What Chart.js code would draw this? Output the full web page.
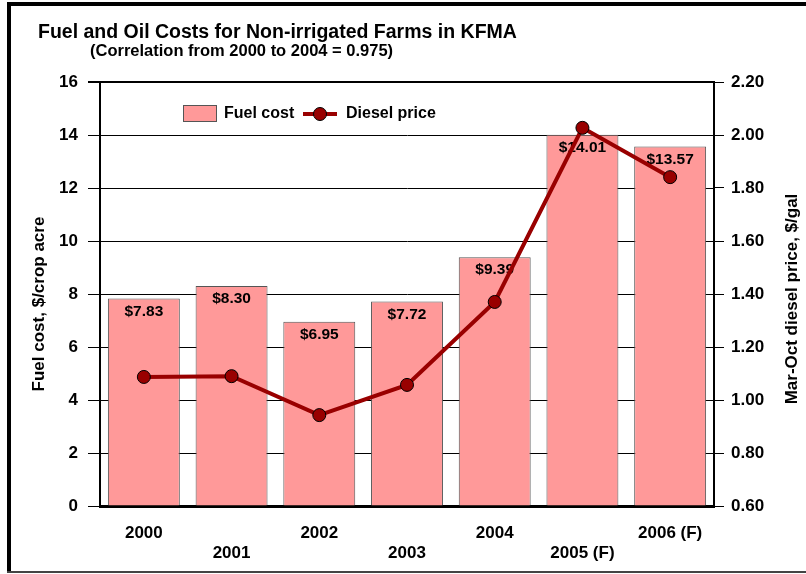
<!DOCTYPE html>
<html>
<head>
<meta charset="utf-8">
<script src="https://cdn.jsdelivr.net/npm/chart.js@4/dist/chart.umd.min.js"></script>
<style>
  html, body { margin: 0; padding: 0; background: #fff; }
  #wrap { width: 806px; height: 574px; }
</style>
</head>
<body>
<div id="wrap"><canvas id="fuelChart" width="806" height="574"></canvas></div>
<script>
const years = ['2000', '2001', '2002', '2003', '2004', '2005 (F)', '2006 (F)'];
const fuelCost = [7.83, 8.30, 6.95, 7.72, 9.39, 14.01, 13.57];
const dieselPrice = [1.087, 1.09, 0.943, 1.057, 1.37, 2.027, 1.841];
const costTicks = [0, 2, 4, 6, 8, 10, 12, 14, 16];
const priceTicks = [0.60, 0.80, 1.00, 1.20, 1.40, 1.60, 1.80, 2.00, 2.20];

const FONT = "'Liberation Sans', Arial, sans-serif";
const BAR_COLOR = '#ff9999';
const LINE_COLOR = '#990000';

// frame, titles, axis titles, bar labels and legend
const decorations = {
    id: 'decorations',
    beforeDraw(chart) {
        const c = chart.ctx;
        c.save();
        c.fillStyle = '#fff';
        c.fillRect(0, 0, chart.width, chart.height);
        c.fillStyle = '#000';
        c.fillRect(7, 2, chart.width - 7, 4);
        c.fillRect(7, 2, 4, 570);
        c.fillStyle = '#444';
        c.fillRect(7, 571, chart.width - 7, 2);
        c.restore();
    },
    afterDatasetDraw(chart, args) {
        if (args.index !== 0) return;
        const c = chart.ctx;
        const meta = chart.getDatasetMeta(0);
        c.save();
        c.font = 'bold 15.5px ' + FONT;
        c.fillStyle = '#000';
        c.textAlign = 'center';
        c.textBaseline = 'middle';
        meta.data.forEach((bar, i) => {
            c.fillText('$' + fuelCost[i].toFixed(2), bar.x, bar.y + 13);
        });
        c.restore();
    },
    afterDraw(chart) {
        const c = chart.ctx;
        c.save();
        c.fillStyle = '#000';
        c.textBaseline = 'alphabetic';
        c.textAlign = 'left';
        c.font = 'bold 19.5px ' + FONT;
        c.fillText('Fuel and Oil Costs for Non-irrigated Farms in KFMA', 38, 38);
        c.font = 'bold 16.5px ' + FONT;
        c.fillText('(Correlation from 2000 to 2004 = 0.975)', 90, 56);

        c.textBaseline = 'middle';
        c.textAlign = 'center';
        c.font = 'bold 17px ' + FONT;
        c.save();
        c.translate(39, 304);
        c.rotate(-Math.PI / 2);
        c.fillText('Fuel cost, $/crop acre', 0, 0);
        c.restore();
        c.save();
        c.translate(792, 299);
        c.rotate(-Math.PI / 2);
        c.fillText('Mar-Oct diesel price, $/gal', 0, 0);
        c.restore();

        // legend
        c.fillStyle = BAR_COLOR;
        c.fillRect(183, 105, 33, 16);
        c.strokeStyle = '#555';
        c.lineWidth = 1;
        c.strokeRect(183.5, 105.5, 33, 16);
        c.fillStyle = '#000';
        c.textAlign = 'left';
        c.font = 'bold 16px ' + FONT;
        c.fillText('Fuel cost', 224, 114);
        c.strokeStyle = LINE_COLOR;
        c.lineWidth = 4;
        c.beginPath();
        c.moveTo(303, 114);
        c.lineTo(337, 114);
        c.stroke();
        c.beginPath();
        c.arc(320, 114, 6.5, 0, Math.PI * 2);
        c.fillStyle = LINE_COLOR;
        c.fill();
        c.strokeStyle = '#000';
        c.lineWidth = 1;
        c.stroke();
        c.fillStyle = '#000';
        c.fillText('Diesel price', 346, 114);
        c.restore();
    }
};

const ctx = document.getElementById('fuelChart').getContext('2d');

new Chart(ctx, {
    data: {
        labels: years,
        datasets: [{
            type: 'bar',
            label: 'Fuel cost',
            data: fuelCost,
            yAxisID: 'y',
            backgroundColor: BAR_COLOR,
            borderColor: '#555',
            borderWidth: 1,
            barPercentage: 0.82,
            categoryPercentage: 1,
            order: 2
        }, {
            type: 'line',
            label: 'Diesel price',
            data: dieselPrice,
            yAxisID: 'y1',
            borderColor: LINE_COLOR,
            borderWidth: 4,
            tension: 0,
            pointRadius: 6.5,
            pointBackgroundColor: LINE_COLOR,
            pointBorderColor: '#000',
            pointBorderWidth: 1,
            order: 1
        }]
    },
    options: {
        responsive: false,
        animation: false,
        layout: {
            padding: { left: 10, right: 10, top: 82, bottom: 8 }
        },
        plugins: {
            legend: { display: false },
            tooltip: { enabled: false }
        },
        scales: {
            x: {
                grid: { display: false },
                border: { display: true, color: '#000', width: 3 },
                ticks: {
                    color: '#000',
                    font: { family: FONT, size: 17, weight: 'bold', lineHeight: 1.2 },
                    padding: 9,
                    maxRotation: 0,
                    autoSkip: false,
                    callback: function(value, index) {
                        const lbl = years[index];
                        return index % 2 ? ['', lbl] : [lbl, ''];
                    }
                },
                afterFit(scale) { scale.height = 60; }
            },
            y: {
                position: 'left',
                min: 0,
                max: 16,
                afterBuildTicks(scale) { scale.ticks = costTicks.map(v => ({ value: v })); },
                grid: {
                    color: '#000',
                    lineWidth: c => (c.tick && c.tick.value === 16 ? 2 : 1),
                    tickLength: 12
                },
                border: { display: true, color: '#000', width: 2 },
                ticks: {
                    color: '#000',
                    font: { family: FONT, size: 17, weight: 'bold' },
                    padding: 10
                },
                afterFit(scale) { scale.width = 90; }
            },
            y1: {
                position: 'right',
                min: 0.6,
                max: 2.2,
                afterBuildTicks(scale) { scale.ticks = priceTicks.map(v => ({ value: v })); },
                grid: {
                    drawOnChartArea: false,
                    color: '#000',
                    tickLength: 10
                },
                border: { display: true, color: '#000', width: 2 },
                ticks: {
                    color: '#000',
                    font: { family: FONT, size: 17, weight: 'bold' },
                    padding: 7,
                    callback: v => v.toFixed(2)
                },
                afterFit(scale) { scale.width = 82; }
            }
        }
    },
    plugins: [decorations]
});
</script>
</body>
</html>
